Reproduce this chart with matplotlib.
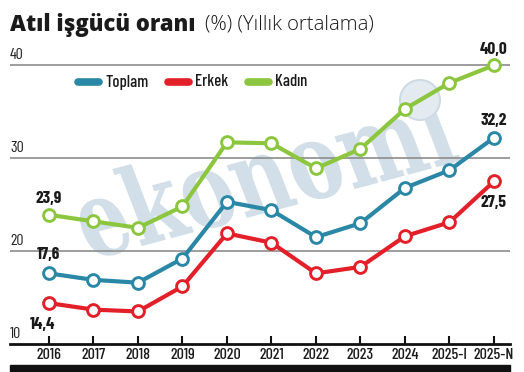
import matplotlib
matplotlib.use('Agg')
import matplotlib.pyplot as plt
from matplotlib.lines import Line2D
from matplotlib.patches import Rectangle, Circle, PathPatch
from matplotlib.textpath import TextPath
from matplotlib.font_manager import FontProperties
from matplotlib.transforms import Affine2D, IdentityTransform

plt.rcParams['font.family'] = ['Barlow Condensed', 'DejaVu Sans']

years = ['2016', '2017', '2018', '2019', '2020', '2021', '2022', '2023', '2024', '2025-I', '2025-N']
toplam = [17.6, 16.9, 16.6, 19.2, 25.3, 24.4, 21.5, 23.0, 26.8, 28.7, 32.2]
erkek = [14.4, 13.7, 13.5, 16.2, 21.9, 20.9, 17.6, 18.3, 21.6, 23.1, 27.5]
kadin = [23.9, 23.2, 22.5, 24.8, 31.7, 31.6, 28.9, 31.0, 35.3, 38.1, 40.0]
y_ticks = [10, 20, 30, 40]

c_top = '#2a87a6'
c_erk = '#e3202a'
c_kad = '#8cc63f'

W, H = 524, 372
fig = plt.figure(figsize=(W / 100, H / 100), dpi=100)
ax = fig.add_axes([10 / W, 28 / H, 500 / W, 302 / H])
x = list(range(len(years)))

# watermark: squashed serif "ekonomi" + a faint globe, in pixel coords
tp = TextPath((0, 0), 'ekonomi', size=1, prop=FontProperties(family='DejaVu Serif', weight='bold'))
wm_tr = Affine2D().scale(80, 108).skew_deg(-6, 0).rotate_deg(15).translate(90, H - 260) + IdentityTransform()
ax.add_artist(PathPatch(tp, transform=wm_tr, facecolor='#d2dfe9', edgecolor='none', zorder=0))
ax.add_artist(Circle((420, H - 100), 20, transform=IdentityTransform(), facecolor='#e3eaf0',
                     edgecolor='#cfdbe4', lw=1.5, zorder=0))

for v in y_ticks[1:]:
    ax.axhline(v, color='#8c8c8c', lw=1.2, zorder=1)

for vals, col in [(toplam, c_top), (erkek, c_erk), (kadin, c_kad)]:
    ax.plot(x, vals, color=col, lw=3, marker='o', ms=8.5, mfc='white', mec=col, mew=2.1,
            zorder=3, solid_joinstyle='round')

ax.set_xlim(-0.876, 10.36)
ax.set_ylim(10, 42.5)
ax.set_xticks(x)
ax.set_xticklabels(years, fontsize=11.5, fontweight='medium', color='#1a1a1a')
ax.set_yticks([])
ax.tick_params(axis='x', direction='in', length=6, width=1.5, pad=3, color='#111111')
for s in ['top', 'right', 'left']:
    ax.spines[s].set_visible(False)
ax.spines['bottom'].set_linewidth(2)
ax.spines['bottom'].set_color('#111111')

for v in y_ticks:
    ax.text(-0.876, v + 0.35, str(v), fontsize=11.5, ha='left', va='bottom', color='#222222')

lab = dict(fontsize=12.5, fontweight='bold', color='#1a1a1a', ha='center', va='center',
           textcoords='offset pixels')
ax.annotate('23,9', (0, kadin[0]), xytext=(0, 16), **lab)
ax.annotate('17,6', (0, toplam[0]), xytext=(0, 19), **lab)
ax.annotate('14,4', (0, erkek[0]), xytext=(-6, -21), **lab)
ax.annotate('40,0', (10, kadin[-1]), xytext=(0, 16), **lab)
ax.annotate('32,2', (10, toplam[-1]), xytext=(0, 17), **lab)
ax.annotate('27,5', (10, erkek[-1]), xytext=(0, -21), **lab)

# legend
for (x0, label, col) in [(78, 'Toplam', c_top), (168, 'Erkek', c_erk), (248, 'Kadın', c_kad)]:
    fig.add_artist(Line2D([x0 / W, (x0 + 21) / W], [1 - 82 / H, 1 - 82 / H], color=col, lw=5.5,
                          solid_capstyle='round', transform=fig.transFigure))
    fig.text((x0 + 27) / W, 1 - 82 / H, label, fontsize=12, fontweight='medium',
             va='center', ha='left', color='#1a1a1a')

# title
fig.text(10 / W, 1 - 25 / H, 'Atıl işgücü oranı', fontsize=15.8, fontweight='heavy',
         family='Open Sans', va='center', ha='left', color='#1a1a1a')
fig.text(205 / W, 1 - 24 / H, '(%) (Yıllık ortalama)', fontsize=14.6, fontweight='light',
         family='Open Sans', va='center', ha='left', color='#1a1a1a')

fig.patches.append(Rectangle((10 / W, 0), 500 / W, 7 / H, transform=fig.transFigure,
                             color='#111111'))

fig.savefig('out.png', dpi=100)
